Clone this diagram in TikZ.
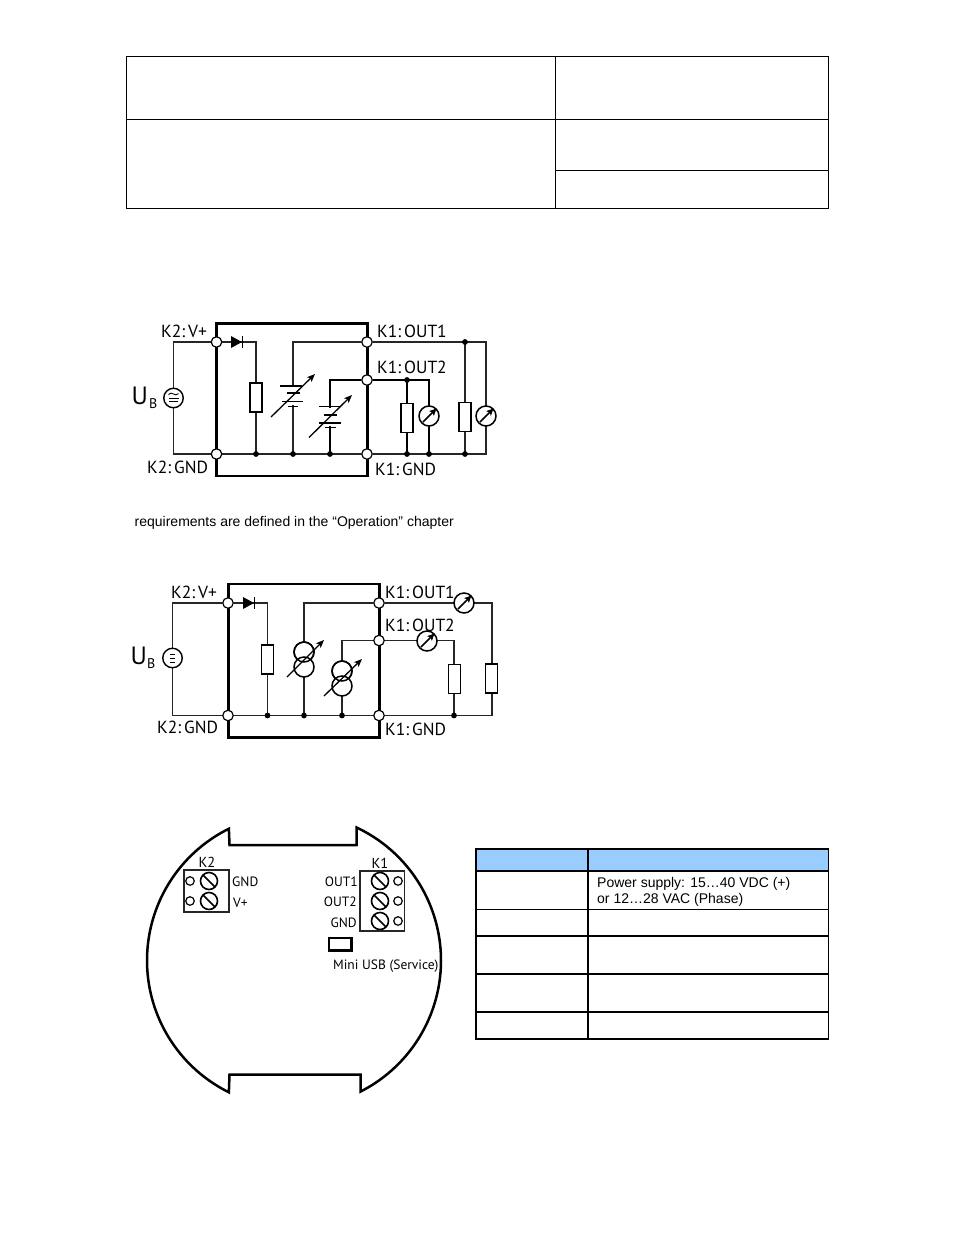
\documentclass[tikz,border=0pt]{standalone}
\usepackage{fontspec}
\setmainfont{PT Sans}
\newfontfamily\arialfont{Liberation Sans}
\usetikzlibrary{arrows.meta,calc}
\tikzset{
  tline/.style={draw=black,line width=1.1pt},
  tablethick/.style={draw=black,line width=1.6pt},
  wire/.style={draw=black!85,line width=1.3pt},
  thickwire/.style={draw=black,line width=1.7pt},
  devicebox/.style={draw=black,line width=2.8pt},
  terminal/.style={circle,draw=black,fill=white,line width=1.2pt,minimum size=10.5pt,inner sep=0pt},
  junction/.style={circle,fill=black,minimum size=5.8pt,inner sep=0pt},
  resistor/.style={rectangle,draw=black,fill=white,line width=1.4pt,minimum width=12pt,minimum height=29pt,inner sep=0pt},
  meter/.style={circle,draw=black,fill=white,line width=1.5pt,minimum size=20pt,inner sep=0pt},
  supply/.style={circle,draw=black,fill=white,line width=1.4pt,minimum size=19.5pt,inner sep=0pt},
  csource/.style={circle,draw=black,line width=1.5pt,minimum size=20pt,inner sep=0pt},
  adjust/.style={draw=black,line width=1.3pt,-{Stealth[length=8pt,width=6.5pt,inset=2pt]}},
  plate/.style={draw=black,line width=1.4pt},
  label/.style={inner sep=0pt,text=black,font=\fontsize{17.5}{18}\selectfont},
  small/.style={inner sep=0pt,font=\fontsize{13.5}{14}\selectfont},
  smallhead/.style={inner sep=0pt,font=\fontsize{14.5}{15}\selectfont},
  arialtxt/.style={inner sep=0pt,text=black,font=\arialfont\fontsize{14}{15}\selectfont,align=left},
  boardline/.style={draw=black,line width=2.5pt},
  terminalbox/.style={draw=black!85,line width=1.4pt},
  hole/.style={circle,draw=black,line width=1.2pt,minimum size=8.5pt,inner sep=0pt},
  screw/.style={circle,draw=black,line width=1.6pt,minimum size=17pt,inner sep=0pt}
}
% diode: #1 left x, #2 y
\newcommand{\diodesym}[2]{\fill[black] (#1,#2-6) -- (#1+11,#2) -- (#1,#2+6) -- cycle;
  \draw[line width=1.6pt] (#1+11.5,#2-6) -- (#1+11.5,#2+6);}
% ammeter arrow across a meter node
\newcommand{\meterarrow}[1]{\draw[black,line width=1.5pt,-{Stealth[length=7pt,width=6.5pt,inset=1.5pt]}] ($(#1)+(-6,6)$) -- ($(#1)+(7.5,-7.5)$);}
\newcommand{\screwslash}[1]{\draw[black,line width=1.6pt] ($(#1)+(-6,-6)$) -- ($(#1)+(6,6)$);}
\begin{document}
\begin{tikzpicture}[x=1pt,y=-1pt]
\useasboundingbox (0,0) rectangle (954,1235);
\fill[white] (0,0) rectangle (954,1235);

% ---------- top table
\draw[tline] (126.5,56.5) rectangle (828.5,208.5);
\draw[tline] (555.5,56.5) -- (555.5,208.5);
\draw[tline] (126.5,119.5) -- (828.5,119.5);
\draw[tline] (555.5,170.5) -- (828.5,170.5);

% ---------- circuit 1
\draw[devicebox] (216.5,323.5) rectangle (367.5,476);
\coordinate (a1) at (173.5,342);
\coordinate (a2) at (173.5,454);
\node[terminal] (aVp) at (216.5,342) {};
\node[terminal] (aG)  at (216.5,454) {};
\node[terminal] (aO1) at (367,342) {};
\node[terminal] (aO2) at (367,380) {};
\node[terminal] (aKG) at (367,454) {};
\coordinate (a3) at (256,342);
\coordinate (a4) at (293,342);
\coordinate (a5) at (330,380);
\coordinate (a6) at (486,342);
\coordinate (a7) at (429,380);
\coordinate (a8) at (486,454);
\draw[wire] (aVp) -- (a1) -- (a2) -- (aG);
\draw[wire] (aVp) -- (a3) -- (256,454);
\draw[wire] (aG) -- (aKG);
\draw[wire] (aKG) -- (a8) -- (a6) -- (aO1);
\draw[wire] (aO1) -- (a4) -- (293,454);
\draw[thickwire] (aO2) -- (a5) -- (330,454);
\draw[thickwire] (aO2) -- (a7) -- (429,454);
\draw[thickwire] (407,380) -- (407,454);
\draw[wire] (465,342) -- (465,454);
\node[junction] (aj1) at (256,454) {};
\node[junction] (aj2) at (293,454) {};
\node[junction] (aj3) at (330,454) {};
\node[junction] (aj4) at (407,454) {};
\node[junction] (aj5) at (429,454) {};
\node[junction] (aj6) at (465,454) {};
\node[junction] (aj7) at (465,342) {};
\node[junction] (aj8) at (407,380) {};
\node[supply] (aS) at (173.5,398) {};
\draw[line width=.9pt] (168.5,394.5) .. controls (170.5,392.8) and (171.5,392.8) .. (173.5,394) .. controls (175.5,395.2) and (176.5,395.2) .. (178.5,393.5);
\draw[line width=.9pt] (168.5,398) -- (178.5,398);
\draw[line width=.9pt] (169,401.5) -- (178,401.5);
\node[resistor] (aR1) at (256,397.5) {};
\node[resistor] (aR2) at (407,418) {};
\node[resistor] (aR3) at (465,417) {};
\node[meter] (aM1) at (429,416) {};
\node[meter] (aM2) at (486,416) {};
\meterarrow{aM1}\meterarrow{aM2}
\diodesym{231}{342}
% batteries
\fill[white] (280,387.5) rectangle (306,405);
\fill[white] (289,387) rectangle (297,392);
\draw[plate] (280,385.8) -- (302,385.8);
\draw[plate] (287,393) -- (300,393);
\draw[plate] (282,401.5) -- (303,401.5);
\draw[plate] (288,406.7) -- (298,406.7);
\coordinate (aB1a) at (271,417);\coordinate (aB1b) at (315,374);
\draw[adjust] (aB1a) -- (aB1b);
\fill[white] (318,408) rectangle (342,426);
\draw[plate] (319,406.7) -- (341,406.7);
\draw[plate] (324,415) -- (337,415);
\draw[plate] (319,423) -- (341,423);
\draw[plate] (325,427.5) -- (336,427.5);
\coordinate (aB2a) at (309,437.5);\coordinate (aB2b) at (352,395);
\draw[adjust] (aB2a) -- (aB2b);
% labels
\node[label,anchor=base west] (lA1) at (161,337) {K2:\,V+};
\node[label,anchor=base west] (lA2) at (147,473) {K2:\,GND};
\node[label,anchor=base west] (lA3) at (377,337) {K1:\,OUT1};
\node[label,anchor=base west] (lA4) at (377,373) {K1:\,OUT2};
\node[label,anchor=base west] (lA5) at (375,475) {K1:\,GND};
\node[inner sep=0pt,anchor=base west,font=\fontsize{25}{25}\selectfont] (lAU) at (131.5,404.5) {U};
\node[inner sep=0pt,anchor=base west,font=\fontsize{14}{14}\selectfont] (lAB) at (149,408) {B};

% ---------- requirements line
\node[arialtxt,anchor=base west] (req) at (134.5,526.5) {requirements are defined in the “Operation” chapter};

% ---------- circuit 2
\draw[devicebox] (228.5,584) rectangle (379.5,737.5);
\coordinate (b1) at (172.5,603);
\coordinate (b2) at (172.5,715.5);
\node[terminal] (bVp) at (228,603) {};
\node[terminal] (bG)  at (228,715.5) {};
\node[terminal] (bO1) at (379,603) {};
\node[terminal] (bO2) at (379,640.5) {};
\node[terminal] (bKG) at (379,715.5) {};
\coordinate (b3) at (267.5,603);
\coordinate (b4) at (304,603);
\coordinate (b5) at (342,640.5);
\coordinate (b6) at (492,603);
\coordinate (b7) at (454,640.5);
\coordinate (b8) at (492,715.5);
\draw[wire] (bVp) -- (b1) -- (b2) -- (bG);
\draw[wire] (bVp) -- (b3) -- (267.5,715.5);
\draw[wire] (bG) -- (bKG) -- (b8) -- (b6) -- (bO1);
\draw[wire] (bO1) -- (b4) -- (304,715.5);
\draw[wire] (bO2) -- (b5) -- (342,715.5);
\draw[wire] (bO2) -- (b7) -- (454,715.5);
\node[junction] (bj1) at (267.5,715.5) {};
\node[junction] (bj2) at (304,715.5) {};
\node[junction] (bj3) at (342,715.5) {};
\node[junction] (bj4) at (454,715.5) {};
\node[supply] (bS) at (172.5,658) {};
\draw[line width=.9pt] (170,654) -- (175,654);
\draw[line width=.9pt] (170,658) -- (175,658);
\draw[line width=.9pt] (170,662) -- (175,662);
\node[resistor] (bR1) at (267.5,659.5) {};
\node[resistor] (bR2) at (454.5,679) {};
\node[resistor] (bR3) at (491.5,678.5) {};
\node[label,anchor=base west] (lB1) at (171,598) {K2:\,V+};
\node[label,anchor=base west] (lB2) at (157,733) {K2:\,GND};
\node[label,anchor=base west] (lB3) at (385,598) {K1:\,OUT1};
\node[label,anchor=base west] (lB4) at (385,631) {K1:\,OUT2};
\node[label,anchor=base west] (lB5) at (385,735) {K1:\,GND};
\node[meter] (bM1) at (464,603) {};
\node[meter] (bM2) at (427,641) {};
\meterarrow{bM1}\meterarrow{bM2}
\diodesym{243}{603}
\node[csource,fill=white] (bC1) at (304,652) {};
\node[csource,fill=white] (bC2) at (304,667) {};
\draw[black,line width=1.5pt] (bC1) circle (10pt);
\coordinate (bA1) at (287,677);\coordinate (bA2) at (324,640);
\draw[adjust] (bA1) -- (bA2);
\node[csource,fill=white] (bC3) at (342,671) {};
\node[csource,fill=white] (bC4) at (342,686) {};
\draw[black,line width=1.5pt] (bC3) circle (10pt);
\coordinate (bA3) at (324,696);\coordinate (bA4) at (362,659);
\draw[adjust] (bA3) -- (bA4);
\node[inner sep=0pt,anchor=base west,font=\fontsize{25}{25}\selectfont] (lBU) at (130.5,664.5) {U};
\node[inner sep=0pt,anchor=base west,font=\fontsize{14}{14}\selectfont] (lBB) at (147,668) {B};

% ---------- board outline
\draw[boardline,line join=miter] plot[domain=116.3:243.7,samples=80] ({294+147*cos(\x)},{960.5-147*sin(\x)})
  -- (229.5,1074.5) -- (360.5,1074.5)
  -- plot[domain=-63.1:64.8,samples=80] ({294+147*cos(\x)},{960.5-147*sin(\x)})
  -- (356.5,845) -- (229.5,845) -- cycle;
% K2
\draw[terminalbox] (184,870) rectangle (229,912);
\node[hole] (k2h1) at (190,881) {};
\node[hole] (k2h2) at (190,901) {};
\node[screw] (k2s1) at (209,881) {};
\node[screw] (k2s2) at (209,901) {};
\screwslash{k2s1}\screwslash{k2s2}
% K1
\draw[terminalbox] (360,871) rectangle (404.5,931);
\node[screw] (k1s1) at (380,881) {};
\node[screw] (k1s2) at (380,901) {};
\node[screw] (k1s3) at (380,921) {};
\screwslash{k1s1}\screwslash{k1s2}\screwslash{k1s3}
\node[hole] (k1h1) at (398,881) {};
\node[hole] (k1h2) at (398,901) {};
\node[hole] (k1h3) at (398,921) {};
\draw[black,line width=2.2pt] (329,938) rectangle (351.5,950.5);
\node[smallhead,anchor=base] (t1) at (207,867) {K2};
\node[small,anchor=base west] (t2) at (232,886) {GND};
\node[small,anchor=base west] (t3) at (233,907) {V+};
\node[smallhead,anchor=base] (t4) at (380,868) {K1};
\node[small,anchor=base east] (t5) at (358,886) {OUT1};
\node[small,anchor=base east] (t6) at (357,906) {OUT2};
\node[small,anchor=base east] (t7) at (357,927) {GND};
\node[small,anchor=base west] (t8) at (333,969) {Mini USB (Service)};

% ---------- pin table
\fill[fill={rgb,255:red,153;green,204;blue,255}] (476,849) rectangle (828.5,871);
\draw[tablethick] (476,849) rectangle (828.5,1039);
\draw[tablethick] (588,849) -- (588,1039);
\draw[tablethick] (476,871) -- (828.5,871);
\draw[tline] (476,909.5) -- (828.5,909.5);
\draw[tablethick] (476,936) -- (828.5,936);
\draw[tablethick] (476,974) -- (828.5,974);
\draw[tline] (476,1012) -- (828.5,1012);
\node[arialtxt,anchor=base west] (p1) at (597,887.5) {Power supply: 15…40 VDC (+)};
\node[arialtxt,anchor=base west] (p2) at (597,903) {or 12…28 VAC (Phase)};
\end{tikzpicture}
\end{document}
